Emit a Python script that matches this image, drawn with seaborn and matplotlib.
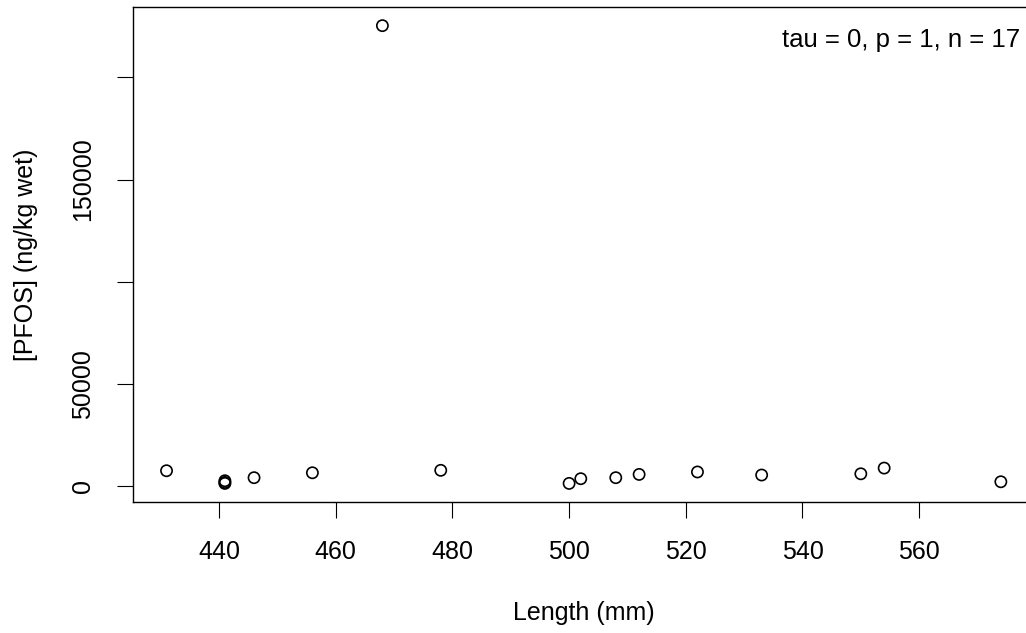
import seaborn as sns
import matplotlib
matplotlib.use("Agg")
import matplotlib.pyplot as plt
import pandas as pd

# Valores
length_mm = [431, 441, 441, 441, 446, 456, 468, 478, 500, 502, 508, 512, 522, 533, 550, 554, 574]
pfos = [7500, 2600, 1300, 1800, 4100, 6500, 225300, 7700, 1300, 3600, 4100, 5700, 6900, 5400, 6000, 8800, 2100]

x_ticks = [440, 460, 480, 500, 520, 540, 560]
y_ticks = [0, 50000, 100000, 150000, 200000]
y_tick_labels = ["0", "50000", "", "150000", ""]

df = pd.DataFrame({"Length": length_mm, "PFOS": pfos})

sns.set_style("ticks")
plt.rcParams["font.family"] = ["Liberation Sans", "DejaVu Sans"]
plt.rcParams["text.color"] = "black"
plt.rcParams["axes.labelcolor"] = "black"
plt.rcParams["xtick.color"] = "black"
plt.rcParams["ytick.color"] = "black"

fig = plt.figure(figsize=(10.26, 6.33), dpi=100)
ax = fig.add_axes([0.1299, 0.2074, 0.878, 0.781])

sns.scatterplot(x="Length", y="PFOS", data=df, ax=ax, marker="o", s=65,
                facecolors="none", edgecolor="black", linewidth=1.2)

ax.set_xlim(425.3, 579.7)
ax.set_ylim(-7660, 234260)
ax.set_xticks(x_ticks)
ax.set_yticks(y_ticks)
ax.set_yticklabels(y_tick_labels, rotation=90, va="center")

for s in ax.spines.values():
    s.set_visible(True)
    s.set_color("black")
    s.set_linewidth(1.0)

ax.tick_params(axis="both", length=11.3, width=0.8, pad=16.5, labelsize=18,
               color="black", labelcolor="black")

ax.set_xlabel("Length (mm)", fontsize=18)
ax.set_ylabel("[PFOS] (ng/kg wet)", fontsize=18)
ax.xaxis.set_label_coords(0.5, -0.225)
ax.xaxis.label.set_va("center")
ax.yaxis.set_label_coords(-0.119, 0.5)
ax.yaxis.label.set_va("center")
ax.yaxis.label.set_ha("center")

fig.text(1020 / 1026, 1 - 40 / 633, "tau = 0, p = 1, n = 17", fontsize=18.5,
         ha="right", va="center", color="black")

plt.savefig("out.png", dpi=100)
